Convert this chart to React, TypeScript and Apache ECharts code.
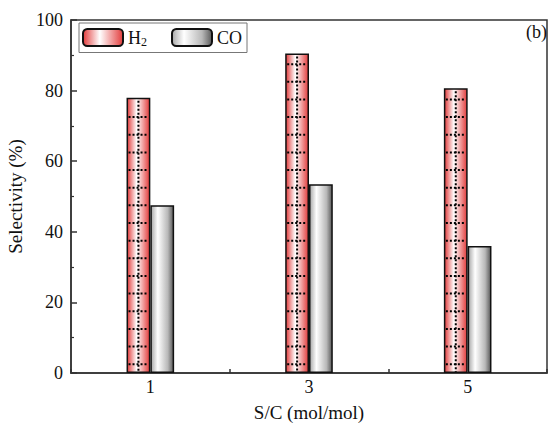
import React, { useEffect, useRef } from "react";
import * as echarts from "echarts";

const categories = ["1", "3", "5"];
const h2Values = [78, 90.5, 80.7];
const coValues = [47.5, 53.5, 36];
const yTicks = { min: 0, max: 100, interval: 20 };
const seriesNames = ["H2", "CO"];

const FONT = "'Liberation Serif', 'Times New Roman', serif";
const BAR_FRAC = 0.15;

export default function App() {
  const ref = useRef<HTMLDivElement>(null);
  useEffect(() => {
    if (!ref.current) return;
    const chart = echarts.init(ref.current, null, { renderer: "svg" });
    const h2Grad = new echarts.graphic.LinearGradient(0, 0, 1, 0, [
      { offset: 0, color: "#e23c3c" },
      { offset: 0.42, color: "#ffffff" },
      { offset: 1, color: "#e23c3c" },
    ]);
    const coGrad = new echarts.graphic.LinearGradient(0, 0, 1, 0, [
      { offset: 0, color: "#a8a8a8" },
      { offset: 0.3, color: "#ffffff" },
      { offset: 0.75, color: "#b8b8b8" },
      { offset: 1, color: "#5a5a5a" },
    ]);
    const dotStyle = { stroke: "#000", lineWidth: 2, lineDash: [2, 2] };
    chart.setOption({
      animation: false,
      textStyle: { fontFamily: FONT },
      grid: {
        left: 71,
        right: 1,
        top: 20,
        bottom: 52,
        outerBoundsMode: "none",
        containLabel: false,
        show: true,
        borderColor: "#333",
        borderWidth: 1.5,
      },
      legend: {
        data: seriesNames,
        left: 79,
        top: 23,
        orient: "horizontal",
        itemWidth: 40,
        itemHeight: 17,
        itemGap: 24,
        padding: [5, 5, 5, 3],
        borderColor: "#777",
        borderWidth: 1,
        formatter: (n: string) => (n === "H2" ? "{n|H}{s|2}" : "{n|" + n + "}"),
        textStyle: {
          fontFamily: FONT,
          color: "#111",
          rich: {
            n: { fontSize: 18, lineHeight: 20, fontFamily: FONT, color: "#111" },
            s: { fontSize: 12, lineHeight: 12, verticalAlign: "bottom", fontFamily: FONT, color: "#111" },
          },
        },
      },
      xAxis: {
        type: "category",
        data: categories,
        name: "S/C (mol/mol)",
        nameLocation: "middle",
        nameGap: 30,
        nameTextStyle: { fontSize: 19, fontFamily: FONT, color: "#111" },
        axisLine: { lineStyle: { color: "#333", width: 1.5 } },
        axisTick: { show: true, inside: true, length: 4, lineStyle: { color: "#333", width: 1.5 } },
        axisLabel: { fontSize: 18, fontFamily: FONT, color: "#111", margin: 5 },
      },
      yAxis: {
        type: "value",
        min: yTicks.min,
        max: yTicks.max,
        interval: yTicks.interval,
        name: "Selectivity (%)",
        nameLocation: "middle",
        nameGap: 42,
        nameTextStyle: { fontSize: 19, fontFamily: FONT, color: "#111" },
        axisLine: { show: true, lineStyle: { color: "#333", width: 1.5 } },
        axisTick: { show: true, inside: true, length: 6, lineStyle: { color: "#333", width: 1.5 } },
        minorTick: { show: true, splitNumber: 2, length: 3, lineStyle: { color: "#333", width: 1.2 } },
        splitLine: { show: false },
        axisLabel: { fontSize: 18, fontFamily: FONT, color: "#111", margin: 8 },
      },
      series: [
        {
          name: "H2",
          type: "bar",
          data: h2Values,
          barWidth: BAR_FRAC * 100 + "%",
          barGap: "0%",
          itemStyle: { color: h2Grad, borderColor: "#111", borderWidth: 1.5 },
        },
        {
          name: "CO",
          type: "bar",
          data: coValues,
          barWidth: BAR_FRAC * 100 + "%",
          barGap: "0%",
          itemStyle: { color: coGrad, borderColor: "#111", borderWidth: 1.5 },
        },
        {
          name: "H2dots",
          type: "custom",
          silent: true,
          z: 5,
          data: h2Values.map((v, i) => [i, v]),
          renderItem: (params: any, api: any) => {
            const idx = api.value(0);
            const val = api.value(1);
            const base = api.coord([idx, 0]);
            const top = api.coord([idx, val]);
            const band = api.size([1, 0])[0];
            const w = band * BAR_FRAC;
            const x0 = base[0] - w;
            const x1 = base[0];
            const children: any[] = [];
            const xm = x0 + w * 0.5;
            children.push({
              type: "line",
              shape: { x1: xm, y1: top[1] + 3, x2: xm, y2: base[1] - 1 },
              style: dotStyle,
            });
            for (let k = 2.5; k < val - 2; k += 5) {
              const y = api.coord([idx, k])[1];
              children.push({
                type: "line",
                shape: { x1: x0 + 2, y1: y, x2: x1 - 2, y2: y },
                style: dotStyle,
              });
            }
            return { type: "group", children };
          },
        },
      ],
      graphic: [
        {
          type: "text",
          right: 1,
          top: 23,
          style: { text: "(b)", fontSize: 18, fontFamily: FONT, fill: "#111" },
        },
        {
          type: "group",
          silent: true,
          z: 100,
          children: [
            { type: "line", shape: { x1: 103, y1: 29, x2: 103, y2: 43 }, style: dotStyle },
            { type: "line", shape: { x1: 85, y1: 42, x2: 120, y2: 42 }, style: dotStyle },
          ],
        },
      ],
    });
    return () => chart.dispose();
  }, []);
  return (
    <div
      ref={ref}
      style={{ position: "fixed", left: 0, top: 0, width: 548, height: 425, background: "#fff" }}
    />
  );
}
